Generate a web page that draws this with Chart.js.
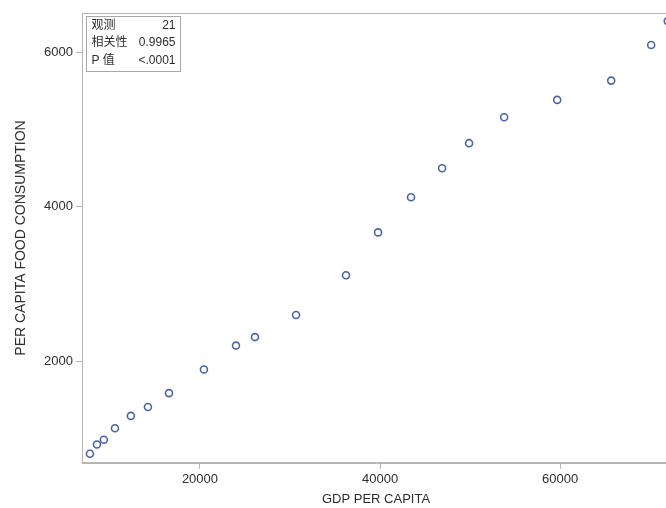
<!DOCTYPE html>
<html>
<head>
<meta charset="utf-8">
<script src="https://cdn.jsdelivr.net/npm/chart.js@4.4.0/dist/chart.umd.min.js"></script>
<style>
  html, body { margin: 0; padding: 0; background: #fff; overflow: hidden; }
  #wrap { width: 666px; height: 508px; overflow: hidden; }
</style>
</head>
<body>
<div id="wrap"><canvas id="scatter" width="680" height="508"></canvas></div>
<script>
// GDP per capita vs per capita food consumption (21 obs)
const gdpPerCapita = [7780, 8560, 9330, 10560, 12330, 14220, 16560, 20440, 24000, 26110, 30670,
  36220, 39780, 43440, 46890, 49890, 53780, 59670, 65670, 70110, 71950]
const foodConsumption = [800, 920, 980, 1130, 1290, 1405, 1585, 1890, 2200, 2310, 2595,
  3110, 3665, 4120, 4495, 4820, 5155, 5380, 5630, 6090, 6400]
const xTicks = [20000, 40000, 60000]
const yTicks = [2000, 4000, 6000]
const statLabels = ["观测", "相关性", "P 值"]
const statValues = ["21", "0.9965", "<.0001"]

const FONT = "'Liberation Sans', Arial, 'Noto Sans CJK SC', sans-serif"
const AXIS_GREY = "#b4b4b4"
const TEXT = "#2e2e2e"
const MARKER = "#4a64aa"

const points = gdpPerCapita.map((x, i) => ({ x: x, y: foodConsumption[i] }))

// frame around the plot + stats inset box
const framePlugin = {
  id: "frame",
  afterDraw(chart) {
    const { ctx, chartArea } = chart
    ctx.save()
    ctx.strokeStyle = AXIS_GREY
    ctx.lineWidth = 1
    ctx.strokeRect(chartArea.left + 0.5, chartArea.top + 0.5,
      chartArea.right - chartArea.left - 1, chartArea.bottom - chartArea.top - 1)

    // stats inset
    const bx = chartArea.left + 4.5, by = chartArea.top + 3.5
    const bw = 94, bh = 55
    ctx.fillStyle = "#fff"
    ctx.fillRect(bx, by, bw, bh)
    ctx.strokeStyle = "#a8a8a8"
    ctx.strokeRect(bx, by, bw, bh)
    ctx.font = "12px " + FONT
    ctx.fillStyle = TEXT
    ctx.textBaseline = "middle"
    statLabels.forEach((lbl, i) => {
      const ty = by + 9 + i * 17.5
      ctx.textAlign = "left"
      ctx.fillText(lbl, bx + 5, ty)
      ctx.textAlign = "right"
      ctx.fillText(statValues[i], bx + bw - 5, ty)
    })
    ctx.restore()
  },
}

new Chart(document.getElementById("scatter"), {
  type: "scatter",
  data: {
    datasets: [
      {
        data: points,
        pointStyle: "circle",
        pointRadius: 3.5,
        pointBorderWidth: 1.6,
        borderColor: MARKER,
        backgroundColor: "rgba(255,255,255,0)",
        pointHoverRadius: 3.5,
      },
    ],
  },
  options: {
    responsive: false,
    animation: false,
    layout: { padding: { top: 13, right: 10, left: 0, bottom: 0 } },
    plugins: {
      legend: { display: false },
      tooltip: { enabled: false },
    },
    scales: {
      x: {
        type: "linear",
        min: 6900,
        max: 72200,
        afterFit: (scale) => { scale.height = 45 },
        afterBuildTicks: (scale) => { scale.ticks = xTicks.map((v) => ({ value: v })) },
        grid: { drawOnChartArea: false, drawTicks: true, tickLength: 6, color: AXIS_GREY },
        border: { display: true, color: AXIS_GREY },
        ticks: {
          color: TEXT,
          font: { family: FONT, size: 13 },
          padding: 3,
          maxRotation: 0,
          callback: (value) => String(value),
        },
        title: {
          display: true,
          text: "GDP PER CAPITA",
          color: TEXT,
          font: { family: FONT, size: 13 },
          padding: { top: 0, bottom: 1 },
        },
      },
      y: {
        type: "linear",
        min: 680,
        max: 6505,
        afterFit: (scale) => { scale.width = 82 },
        afterBuildTicks: (scale) => { scale.ticks = yTicks.map((v) => ({ value: v })) },
        grid: { drawOnChartArea: false, drawTicks: true, tickLength: 6, color: AXIS_GREY },
        border: { display: true, color: AXIS_GREY },
        ticks: {
          color: TEXT,
          font: { family: FONT, size: 13 },
          padding: 3,
          callback: (value) => String(value),
        },
        title: {
          display: true,
          text: "PER CAPITA FOOD CONSUMPTION",
          color: TEXT,
          font: { family: FONT, size: 14 },
          padding: { top: 13, bottom: 0 },
        },
      },
    },
  },
  plugins: [framePlugin],
})
</script>
</body>
</html>
